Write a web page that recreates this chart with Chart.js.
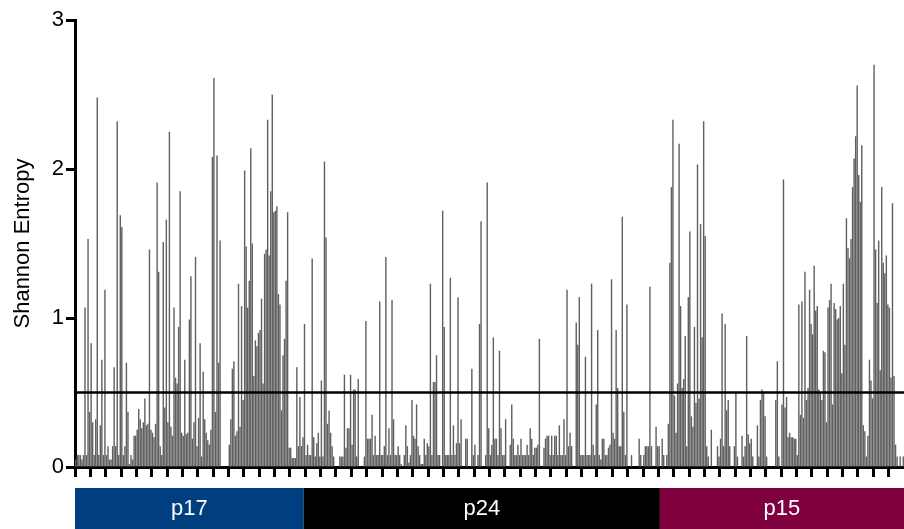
<!DOCTYPE html>
<html>
<head>
<meta charset="utf-8">
<script src="https://cdn.jsdelivr.net/npm/chart.js@4/dist/chart.umd.min.js"></script>
<style>
html,body{margin:0;padding:0;background:#fff;}
#wrap{width:904px;height:529px;}
</style>
</head>
<body>
<div id="wrap"><canvas id="c" width="904" height="529"></canvas></div>
<script>
// ---- DATA ----
const positions = Array.from({length: 540}, (_, i) => i + 1);

const entropy = [
 // 1-78
 0.05,0.08,0.08,0.08,0.05,0.08,1.07,0.08,1.53,0.37,0.83,0.30,0.08,0.32,2.48,0.08,0.28,0.72,0.08,1.19,
 0.08,0.14,0.05,0.05,0.14,0.67,0.14,2.32,0.08,1.69,1.61,0.08,0.14,0.70,0.37,0.02,0.08,0.05,0.21,0.21,
 0.25,0.39,0.32,0.26,0.30,0.46,0.28,0.29,1.46,0.25,0.23,0.20,0.29,1.91,1.31,0.14,0.08,1.51,0.40,1.66,
 0.30,2.25,0.27,0.21,1.07,0.60,0.56,0.94,1.85,0.23,0.21,0.72,0.22,0.23,0.99,1.28,0.19,0.30,
 // 79-156
 1.41,0.14,0.33,0.83,0.07,0.64,0.32,0.23,0.18,0.15,0.25,2.08,2.61,0.37,2.09,0.70,1.52,0,0,0,
 0,0,0.15,0.32,0.66,0.71,0.21,0.24,1.23,0.27,1.08,0.45,1.99,1.48,1.07,1.25,2.14,1.50,0.61,0.85,
 0.81,0.90,0.92,1.13,0.56,1.43,1.46,2.33,1.42,1.85,2.50,1.71,1.72,1.75,1.16,1.09,0.38,0.75,0.86,1.25,
 1.71,0.13,0.13,0.06,0.06,0.06,0.67,0.14,0.47,0.14,0.20,0.96,0.08,0.15,0.08,0.08,1.40,0.20,
 // 157-234
 0.07,0.16,0.23,0.07,0.58,0.07,2.05,1.54,0.29,0.38,0.23,0.14,0.07,0,0,0,0.07,0.07,0.07,0.62,
 0.13,0.26,0.26,0.62,0.15,0.52,0.52,0.07,0.59,0,0,0,0.07,0.98,0.19,0.19,0.19,0.35,0.08,0.21,
 0.08,0.08,1.11,0.08,0.08,0.14,1.41,0.08,0.26,0.08,1.12,0.32,0.08,0.08,0.14,0.08,0.02,0,0.08,0.28,
 0.14,0.03,0.08,0.45,0.21,0.19,0.42,0.14,0.08,0.02,0.02,0.19,0.08,0.16,0.14,1.23,0.08,0.57,
 // 235-313
 0.57,0.75,0.08,0.08,0,1.72,0.94,0.08,0.08,0.08,1.27,0.08,0.28,0.08,0.16,1.14,0.16,0.32,0,0,
 0.19,0.19,0,0,0.66,0.08,0.15,0,0.08,0.96,1.65,0,0,0.08,1.91,0.26,0.08,0.15,0.87,0.19,
 0.19,0.08,0.78,0.26,0.08,0.08,0.32,0,0,0.15,0.42,0.19,0.08,0.08,0.15,0.08,0.19,0.08,0.08,0.08,
 0.15,0.08,0.26,0.19,0.08,0.13,0.13,0.15,0.86,0,0,0.13,0.19,0.21,0.21,0.08,0.21,0.08,0.21,
 // 314-391
 0.21,0.08,0.28,0.08,0.08,0.32,0.08,1.19,0.14,0.23,0.14,0,0,0.97,0.82,1.14,0.08,0.08,0.08,0.74,
 0.08,0.08,0.08,1.23,0.15,0.08,0.42,0.92,0.08,0.05,0.19,0.19,0.08,0.08,0.13,0.15,1.26,0.23,0.19,0.92,
 0.53,0.14,0.14,1.68,0.37,0.08,1.09,0,0,0.08,0,0,0,0,0.19,0.08,0,0.08,0.14,0.14,
 0.14,1.21,0.14,0,0,0.27,0.14,0.14,0,0.19,0.08,0,0.08,0.29,1.37,1.88,2.33,0.48,
 // 392-469
 0.23,0.56,2.17,1.08,0.53,0.59,0.88,0.14,1.14,1.58,0.34,0.27,0.94,0.43,2.03,0.46,1.63,0.87,2.32,1.55,
 0.14,0.07,0,0.25,0,0,0,0.14,0.07,0.19,1.03,0.14,0.96,0.38,0.45,0.14,0,0,0.14,0.50,
 0.07,0,0,0.21,0.07,0.14,0.88,0.22,0.16,0.19,0.07,0,0,0.28,0.07,0.45,0.52,0.50,0.34,0.07,
 0,0,0,0,0,0.45,0.71,0.07,0,0.42,1.93,0.40,0.47,0.20,0.23,0.20,0.20,0.19,
 // 470-540
 0.19,0.08,1.09,0.35,1.11,0.33,1.31,0.45,0.53,1.19,0.96,0.89,1.35,1.05,1.08,0.52,0.50,0.45,0.78,0.77,
 0.30,1.07,1.12,1.23,0.42,1.10,1.06,0.99,1.00,1.08,0.63,1.23,0.82,1.67,1.47,1.40,1.53,1.88,2.07,2.22,
 2.56,1.96,1.78,2.16,0.28,0.24,0.07,0.21,0.72,0.58,0.46,2.70,1.46,1.10,1.52,0.65,1.88,1.37,1.30,1.42,
 1.09,1.07,0.60,1.77,0.61,0.15,0.07,0,0.07,0,0.07
];

const yTicks = [0, 1, 2, 3];
const threshold = 0.5;
const regionNames = ['p17', 'p24', 'p15'];
const regionStart = [1, 150, 382];
const regionEnd = [149, 381, 540];
const regionColors = ['#003f7f', '#000000', '#7f003f'];
const xTickEvery = 10;

// ---- CHART ----
Chart.defaults.font.family = '"Liberation Sans", Arial, Helvetica, sans-serif';
Chart.defaults.color = '#000';

const extras = {
  id: 'extras',
  afterDatasetsDraw(chart) {
    const {ctx, chartArea, scales} = chart;
    const y = scales.y.getPixelForValue(threshold);
    ctx.save();
    ctx.strokeStyle = '#000';
    ctx.lineWidth = 2.5;
    ctx.beginPath();
    ctx.moveTo(chartArea.left, y);
    ctx.lineTo(chartArea.right, y);
    ctx.stroke();
    ctx.restore();
  },
  afterDraw(chart) {
    const {ctx, chartArea, scales} = chart;
    const xs = scales.x;
    const half = (xs.getPixelForValue(1) - xs.getPixelForValue(0)) / 2;
    const top = chartArea.bottom + 21;
    const bottom = chart.height;
    ctx.save();
    regionNames.forEach((name, k) => {
      const x1 = xs.getPixelForValue(regionStart[k] - 1) - half;
      const x2 = xs.getPixelForValue(regionEnd[k] - 1) + half;
      ctx.fillStyle = regionColors[k];
      ctx.fillRect(x1, top, x2 - x1, bottom - top);
      ctx.fillStyle = '#fff';
      ctx.font = '22px "Liberation Sans", Arial, sans-serif';
      ctx.textAlign = 'center';
      ctx.textBaseline = 'middle';
      ctx.fillText(name, (x1 + x2) / 2, (top + bottom) / 2);
    });
    ctx.restore();
  }
};

new Chart(document.getElementById('c'), {
  type: 'bar',
  data: {
    labels: positions,
    datasets: [{
      data: entropy,
      backgroundColor: 'rgb(96,96,96)',
      borderWidth: 0,
      barPercentage: 0.92,
      categoryPercentage: 1.0
    }]
  },
  options: {
    responsive: false,
    animation: false,
    devicePixelRatio: 1,
    layout: {padding: {top: 20, right: 0, left: 0, bottom: 0}},
    plugins: {legend: {display: false}, tooltip: {enabled: false}},
    scales: {
      x: {
        type: 'category',
        offset: true,
        z: 1,
        ticks: {display: false},
        grid: {
          display: true, offset: true, drawOnChartArea: false, drawTicks: true,
          tickLength: 10, tickWidth: 3,
          tickColor: (c) => (c.index !== undefined && c.index % xTickEvery === 0) ? '#000' : 'rgba(0,0,0,0)'
        },
        border: {display: true, color: '#000', width: 3},
        afterFit: (s) => { s.height = 62; }
      },
      y: {
        min: 0, max: 3,
        z: 1,
        afterBuildTicks: (s) => { s.ticks = yTicks.map(v => ({value: v})); },
        ticks: {color: '#000', font: {size: 22}, padding: 2},
        grid: {drawOnChartArea: false, drawTicks: true, tickLength: 9, tickWidth: 3, tickColor: '#000'},
        border: {display: true, color: '#000', width: 3},
        title: {display: true, text: 'Shannon Entropy', color: '#000', font: {size: 22}, padding: {top: 10, bottom: 0}},
        afterFit: (s) => { s.width = 75; }
      }
    }
  },
  plugins: [extras]
});
</script>
</body>
</html>
